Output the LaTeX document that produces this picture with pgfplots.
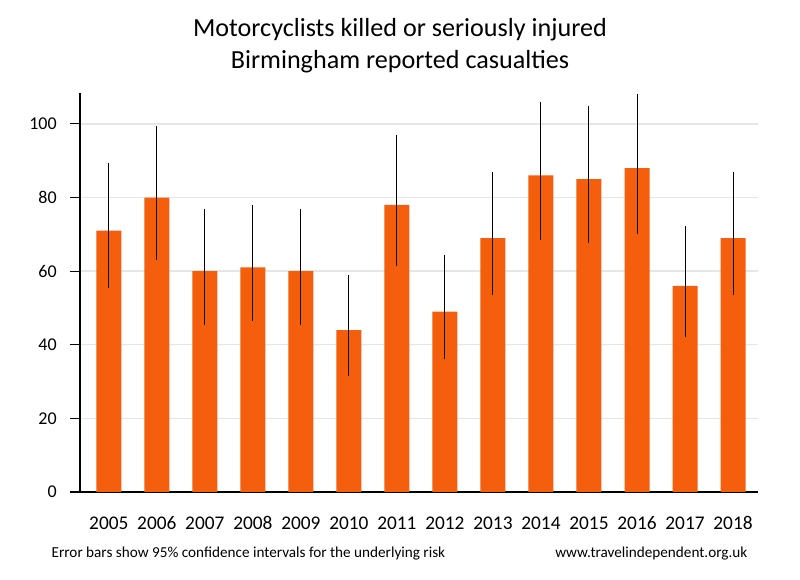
\documentclass[border=0pt]{standalone}
\usepackage{pgfplots}
\pgfplotsset{compat=1.18}
\usepackage{fontspec}
\setmainfont{Carlito}
\definecolor{barorange}{RGB}{245,94,12}
\definecolor{gridgray}{RGB}{230,230,230}
\begin{document}
\begin{tikzpicture}
\path[use as bounding box] (0pt,0pt) rectangle (600pt,435pt);
\node[font=\fontsize{19.6}{22}\selectfont] at (300pt,412.5pt) {Motorcyclists killed or seriously injured};
\node[font=\fontsize{19.6}{22}\selectfont] at (300pt,388.5pt) {Birmingham reported casualties};
\begin{axis}[
  at={(60pt,66pt)}, anchor=south west,
  scale only axis, width=508.5pt, height=299.25pt,
  xmin=-0.6, xmax=13.52, ymin=0, ymax=108.4,
  axis lines=left, axis line style={line width=1.6pt, -},
  xtick={0,...,13},
  xticklabels={2005,2006,2007,2008,2009,2010,2011,2012,2013,2014,2015,2016,2017,2018},
  x tick style={draw=none},
  xticklabel style={anchor=base, yshift=-21pt, font=\fontsize{14.5}{16}\selectfont},
  ytick={0,20,...,100},
  y tick style={black, line width=0.8pt},
  yticklabel style={anchor=east, xshift=-6.5pt, font=\fontsize{13.5}{15}\selectfont},
  tick align=outside, major tick length=7.5pt,
  ymajorgrids, grid style={gridgray, line width=1.1pt},
  /pgf/number format/assume math mode=true,
  clip=false,
]
\addplot[ybar, bar width=18.75pt, fill=barorange, draw=none,
  error bars/.cd, y dir=both, y explicit, error mark=none,
  error bar style={black, line width=0.75pt}]
coordinates {
  (0,71) += (0,18.5) -= (0,15.5)
  (1,80) += (0,19.5) -= (0,17)
  (2,60) += (0,17) -= (0,14.5)
  (3,61) += (0,17) -= (0,14.5)
  (4,60) += (0,17) -= (0,14.5)
  (5,44) += (0,15) -= (0,12.5)
  (6,78) += (0,19) -= (0,16.5)
  (7,49) += (0,15.5) -= (0,13)
  (8,69) += (0,18) -= (0,15.5)
  (9,86) += (0,20) -= (0,17.5)
  (10,85) += (0,20) -= (0,17.3)
  (11,88) += (0,20.2) -= (0,17.9)
  (12,56) += (0,16.3) -= (0,14)
  (13,69) += (0,18) -= (0,15.5)
};
\end{axis}
\node[anchor=base west, font=\fontsize{11.4}{13}\selectfont] at (35.25pt,16.5pt) {Error bars show 95\% confidence intervals for the underlying risk};
\node[anchor=base east, font=\fontsize{11.4}{13}\selectfont] at (564pt,16.5pt) {www.travelindependent.org.uk};
\end{tikzpicture}
\end{document}
